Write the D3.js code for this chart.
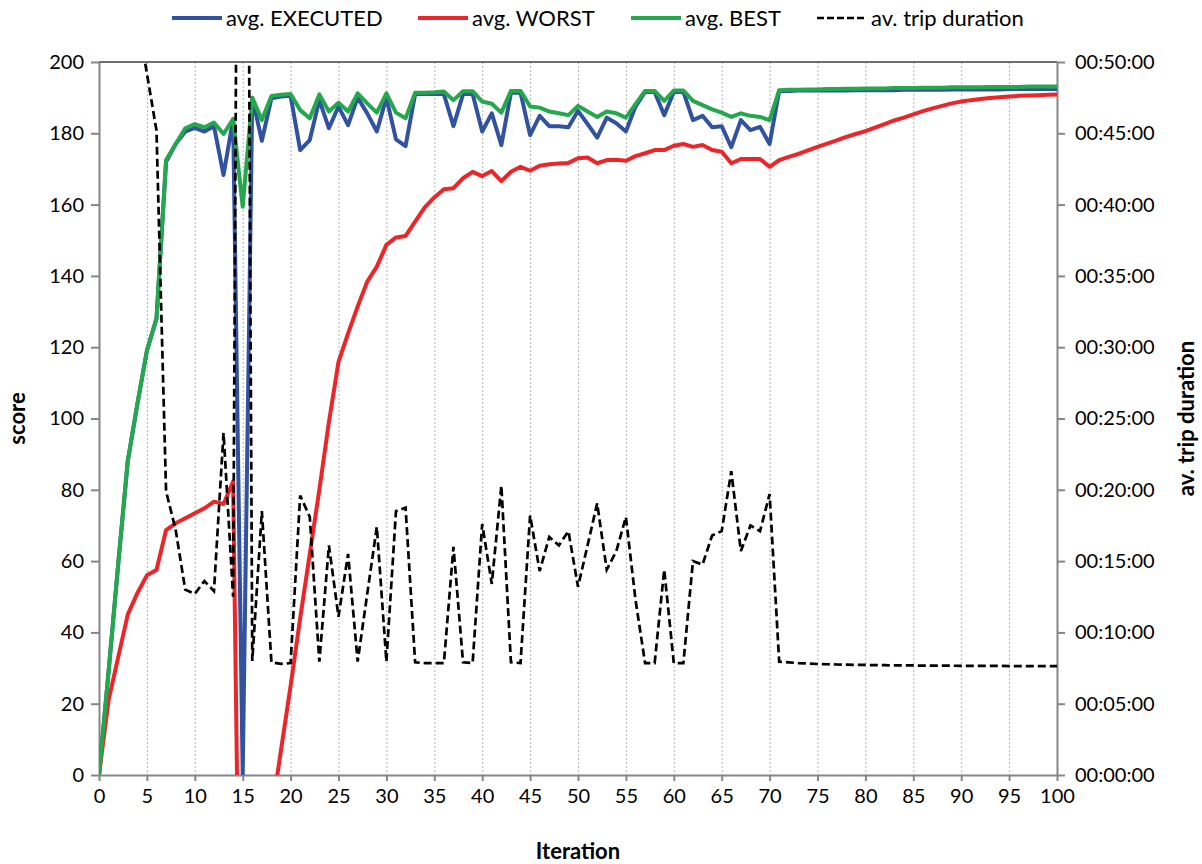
<!DOCTYPE html>
<html>
<head>
<meta charset="utf-8">
<script src="https://cdn.jsdelivr.net/npm/d3@7"></script>
<style>
  body { margin: 0; background: #fff; }
  svg { display: block; font-family: Lato, "Open Sans", sans-serif; }
</style>
</head>
<body>
<div class="graph"></div>
<script>
const iterations = d3.range(0, 101);

const executed = [
  0, 29, 59, 88, 104, 119, 128, 172, 177, 180.5,
  181.5, 180.5, 182, 168.3, 184, 0, 190, 177.9, 189.8, 190.3,
  190.5, 175.3, 178.1, 189.3, 181.4, 187.5, 182.3, 190, 185.6, 180.5,
  190, 178.3, 176.4, 191, 191, 191, 191, 182, 191, 191,
  180.5, 185.6, 176.7, 191.4, 191.4, 179.5, 184.9, 182, 182, 181.7,
  186.3, 182.6, 178.8, 184.4, 182.8, 180.5, 187.5, 191.6, 191.6, 185.1,
  191.6, 191.6, 183.7, 184.9, 181.7, 182, 176.1, 183.7, 180.9, 181.8,
  177, 191.9, 191.9, 192, 192, 192, 192, 192, 192, 192.1,
  192.1, 192.1, 192.1, 192.1, 192.2, 192.2, 192.2, 192.2, 192.2, 192.3,
  192.3, 192.3, 192.3, 192.3, 192.3, 192.4, 192.4, 192.4, 192.4, 192.4,
  192.4,
];

const worst = [
  0, 21, 33, 45, 51, 56, 57.5, 68.7, 70.6, 72,
  73.4, 74.8, 76.7, 76, 82.3, -120, -90, -50, -11, 7,
  25, 44, 62, 80, 99, 115.9, 123.9, 131.4, 138.4, 142.6,
  148.7, 150.8, 151.2, 155.2, 159.2, 162, 164.3, 164.6, 167.4, 169.2,
  168, 169.4, 166.6, 169.2, 170.6, 169.5, 170.9, 171.3, 171.5, 171.7,
  173, 173.2, 171.6, 172.5, 172.6, 172.3, 173.6, 174.4, 175.3, 175.3,
  176.5, 177, 176.2, 176.7, 175.3, 174.8, 171.6, 172.8, 172.8, 172.8,
  170.6, 172.5, 173.4, 174.2, 175.2, 176.2, 177.1, 178, 179, 179.8,
  180.6, 181.6, 182.6, 183.6, 184.4, 185.3, 186.2, 187, 187.7, 188.4,
  188.9, 189.3, 189.6, 189.9, 190.1, 190.3, 190.5, 190.6, 190.7, 190.8,
  190.9,
];

const best = [
  0, 29, 59, 88, 104, 119, 128, 172.5, 177, 181.4,
  182.6, 181.7, 183, 179.8, 184, 159.4, 190, 183.7, 190.5, 190.8,
  191, 186.5, 184.2, 190.9, 186.1, 188.6, 186.1, 191.2, 188.4, 185.8,
  191.2, 185.8, 184.2, 191.4, 191.4, 191.5, 191.7, 189.3, 191.8, 191.8,
  188.9, 188.3, 185.8, 191.9, 191.9, 187.5, 187.2, 186.1, 185.6, 185.1,
  187.7, 186.1, 184.6, 186.1, 185.6, 184.4, 188.2, 191.9, 191.9, 189.1,
  192, 192, 189.1, 187.9, 186.7, 185.8, 184.6, 185.6, 184.9, 184.6,
  183.7, 192.1, 192.2, 192.2, 192.3, 192.3, 192.4, 192.4, 192.5, 192.5,
  192.6, 192.6, 192.6, 192.7, 192.7, 192.7, 192.8, 192.8, 192.8, 192.9,
  192.9, 192.9, 192.9, 193, 193, 193, 193, 193.1, 193.1, 193.1,
  193.1,
];

// av. trip duration per iteration (null = above the axis, not readable)
const tripDuration = [
  null, null, null, null, "00:53:12", "00:49:12", "00:45:12", "00:19:54", "00:17:12", "00:13:00",
  "00:12:42", "00:13:36", "00:12:54", "00:24:00", "00:12:30", "02:17:00", "00:08:00", "00:18:30", "00:07:54", "00:07:48",
  "00:07:51", "00:19:36", "00:18:06", "00:07:57", "00:16:06", "00:11:06", "00:15:30", "00:07:57", "00:12:42", "00:17:24",
  "00:07:57", "00:18:30", "00:18:45", "00:07:54", "00:07:51", "00:07:51", "00:07:51", "00:16:00", "00:07:54", "00:07:51",
  "00:17:36", "00:13:24", "00:20:18", "00:07:54", "00:07:51", "00:18:12", "00:14:18", "00:16:42", "00:16:06", "00:17:06",
  "00:13:12", "00:16:06", "00:19:03", "00:14:24", "00:15:42", "00:18:06", "00:12:18", "00:07:51", "00:07:51", "00:14:24",
  "00:07:51", "00:07:51", "00:15:00", "00:14:45", "00:16:48", "00:17:06", "00:21:18", "00:15:42", "00:17:30", "00:17:06",
  "00:19:42", "00:07:57", "00:07:54", "00:07:51", "00:07:49", "00:07:47", "00:07:46", "00:07:45", "00:07:44", "00:07:43",
  "00:07:43", "00:07:42", "00:07:42", "00:07:41", "00:07:41", "00:07:41", "00:07:40", "00:07:40", "00:07:40", "00:07:40",
  "00:07:39", "00:07:39", "00:07:39", "00:07:39", "00:07:39", "00:07:38", "00:07:38", "00:07:38", "00:07:38", "00:07:38",
  "00:07:38",
];

const xTicks = d3.range(0, 101, 5);
const scoreTicks = d3.range(0, 201, 20);
const durationTicks = ["00:00:00", "00:05:00", "00:10:00", "00:15:00", "00:20:00", "00:25:00",
  "00:30:00", "00:35:00", "00:40:00", "00:45:00", "00:50:00"];

const seriesNames = ["avg. EXECUTED", "avg. WORST", "avg. BEST", "av. trip duration"];
const seriesColors = ["#3151a1", "#ee2528", "#23a84b", "#000000"];

const toSeconds = (s) => {
  const [h, m, sec] = s.split(":").map(Number);
  return h * 3600 + m * 60 + sec;
};

const width = 1202;
const height = 864;
const margin = { top: 62, right: 145, bottom: 89, left: 99 };
const fontSize = 20;

const svg = d3
  .select(".graph")
  .append("svg")
  .attr("width", width)
  .attr("height", height)
  .attr("viewBox", [0, 0, width, height]);

const x = d3.scaleLinear().domain([0, 100]).range([margin.left, width - margin.right]);
const yScore = d3.scaleLinear().domain([0, 200]).range([height - margin.bottom, margin.top]);
const yTime = d3
  .scaleLinear()
  .domain([0, toSeconds("00:50:00")])
  .range([height - margin.bottom, margin.top]);

// Clip the lines to the plot area, like the spreadsheet does.
svg
  .append("clipPath")
  .attr("id", "plot-clip")
  .append("rect")
  .attr("x", margin.left)
  .attr("y", margin.top)
  .attr("width", width - margin.left - margin.right)
  .attr("height", height - margin.top - margin.bottom);

// Vertical dotted gridlines.
svg
  .append("g")
  .attr("stroke", "#b4b4b4")
  .attr("stroke-width", 1)
  .attr("stroke-dasharray", "2,2")
  .selectAll()
  .data(xTicks.filter((d) => d > 0 && d < 100))
  .join("line")
  .attr("x1", (d) => x(d) + 0.5)
  .attr("x2", (d) => x(d) + 0.5)
  .attr("y1", margin.top)
  .attr("y2", height - margin.bottom);

// Top border of the plot area.
svg
  .append("line")
  .attr("x1", margin.left)
  .attr("x2", width - margin.right)
  .attr("y1", margin.top)
  .attr("y2", margin.top)
  .attr("stroke", "#404040")
  .attr("stroke-width", 1.5);

const styleAxis = (g) => {
  g.select(".domain").attr("stroke", "#868686").attr("stroke-width", 2);
  g.selectAll(".tick line").attr("stroke", "#868686").attr("stroke-width", 2);
  g.selectAll(".tick text")
    .attr("fill", "#000")
    .style("font-size", `${fontSize}px`)
    .style("font-family", "Lato, sans-serif");
};

// Axes.
svg
  .append("g")
  .attr("transform", `translate(0,${height - margin.bottom})`)
  .call(d3.axisBottom(x).tickValues(xTicks).tickSize(6).tickSizeOuter(0).tickPadding(8))
  .call(styleAxis);

svg
  .append("g")
  .attr("transform", `translate(${margin.left},0)`)
  .call(d3.axisLeft(yScore).tickValues(scoreTicks).tickSize(8).tickSizeOuter(0).tickPadding(7))
  .call(styleAxis);

svg
  .append("g")
  .attr("transform", `translate(${width - margin.right},0)`)
  .call(
    d3
      .axisRight(yTime)
      .tickValues(durationTicks.map(toSeconds))
      .tickFormat((d, i) => durationTicks[i])
      .tickSize(8)
      .tickSizeOuter(0)
      .tickPadding(10),
  )
  .call(styleAxis);

// Axis titles.
const titleSize = "22px";

svg
  .append("text")
  .attr("transform", `translate(25,${(margin.top + height - margin.bottom) / 2}) rotate(-90)`)
  .attr("text-anchor", "middle")
  .style("font-size", titleSize)
  .style("font-weight", "bold")
  .text("score");

svg
  .append("text")
  .attr("transform", `translate(1194,${(margin.top + height - margin.bottom) / 2}) rotate(-90)`)
  .attr("text-anchor", "middle")
  .style("font-size", titleSize)
  .style("font-weight", "bold")
  .text("av. trip duration");

svg
  .append("text")
  .attr("x", (margin.left + width - margin.right) / 2)
  .attr("y", 859)
  .attr("text-anchor", "middle")
  .style("font-size", titleSize)
  .style("font-weight", "bold")
  .text("Iteration");

// Creates the score lines.
const scoreLine = d3
  .line()
  .x((d) => x(d[0]))
  .y((d) => yScore(d[1]));

const scoreSeries = [executed, worst, best];

svg
  .append("g")
  .attr("clip-path", "url(#plot-clip)")
  .attr("fill", "none")
  .attr("stroke-width", 4)
  .attr("stroke-linejoin", "round")
  .selectAll()
  .data(scoreSeries)
  .join("path")
  .attr("stroke", (d, i) => seriesColors[i])
  .attr("d", (d) => scoreLine(d.map((v, i) => [iterations[i], v])));

// Creates the dashed trip duration line on the right axis.
const timeLine = d3
  .line()
  .defined((d) => d[1] !== null)
  .x((d) => x(d[0]))
  .y((d) => yTime(toSeconds(d[1])));

svg
  .append("path")
  .attr("clip-path", "url(#plot-clip)")
  .attr("fill", "none")
  .attr("stroke", seriesColors[3])
  .attr("stroke-width", 2.7)
  .attr("stroke-dasharray", "8,4")
  .attr("d", timeLine(tripDuration.map((v, i) => [iterations[i], v])));

// Legend.
const legendX = [172, 418, 631, 817];
const legend = svg
  .append("g")
  .selectAll()
  .data(seriesNames)
  .join("g")
  .attr("transform", (d, i) => `translate(${legendX[i]},18)`);

legend
  .append("line")
  .attr("x1", 0)
  .attr("x2", 50)
  .attr("stroke", (d, i) => seriesColors[i])
  .attr("stroke-width", (d, i) => (i === 3 ? 2.7 : 4))
  .attr("stroke-dasharray", (d, i) => (i === 3 ? "7,3" : null));

legend
  .append("text")
  .attr("x", 54)
  .attr("dy", "0.35em")
  .style("font-size", "22px")
  .text((d) => d);
</script>
</body>
</html>
